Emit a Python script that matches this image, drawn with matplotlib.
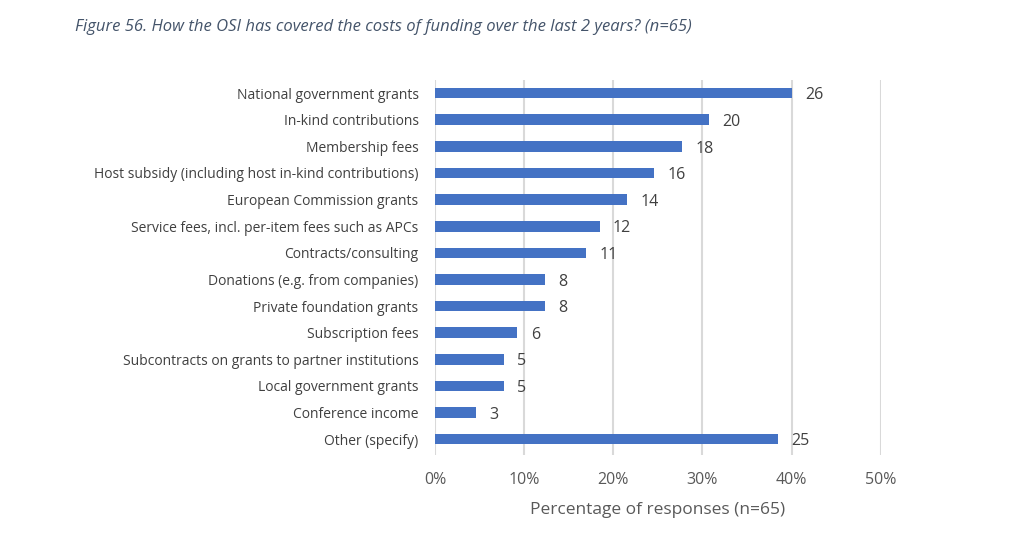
import matplotlib.pyplot as plt
import numpy as np

plt.rcParams['font.family'] = ['Open Sans', 'DejaVu Sans']

categories = ["National government grants", "In-kind contributions", "Membership fees",
              "Host subsidy (including host in-kind contributions)", "European Commission grants",
              "Service fees, incl. per-item fees such as APCs", "Contracts/consulting",
              "Donations (e.g. from companies)", "Private foundation grants", "Subscription fees",
              "Subcontracts on grants to partner institutions", "Local government grants",
              "Conference income", "Other (specify)"]
counts = [26, 20, 18, 16, 14, 12, 11, 8, 8, 6, 5, 5, 3, 25]
n = 65
xticks = [0, 10, 20, 30, 40, 50]

pct = np.array(counts) / n * 100
y = np.arange(len(categories))

fig = plt.figure(figsize=(10.24, 5.36), dpi=100)
ax = fig.add_axes([0.425, 0.151, 0.435, 0.700])

ax.barh(y, pct, height=0.4, color='#4472C4', zorder=3)
for yi, p, c in zip(y, pct, counts):
    ax.text(p + 1.5, yi + 0.08, str(c), va='center', ha='left', fontsize=11.5, color='#404040')

ax.set_ylim(13.6, -0.5)
ax.set_xlim(0, 50)
ax.set_yticks(y)
ax.set_yticklabels(categories, fontsize=10, color='#404040')
ax.set_xticks(xticks)
ax.set_xticklabels([f"{t}%" for t in xticks], fontsize=11.5, color='#595959')
ax.tick_params(axis='both', length=0)
ax.tick_params(axis='y', pad=12)
ax.tick_params(axis='x', pad=12)
ax.grid(axis='x', color='#D9D9D9', linewidth=1.5, zorder=0)
for s in ax.spines.values():
    s.set_visible(False)

ax.set_xlabel("Percentage of responses (n=65)", fontsize=12.5, color='#595959', labelpad=10)

fig.text(0.073, 0.95, "Figure 56. How the OSI has covered the costs of funding over the last 2 years? (n=65)",
         fontsize=12, style='italic', color='#44546A', va='center', ha='left')

fig.savefig("out.png", dpi=100)
